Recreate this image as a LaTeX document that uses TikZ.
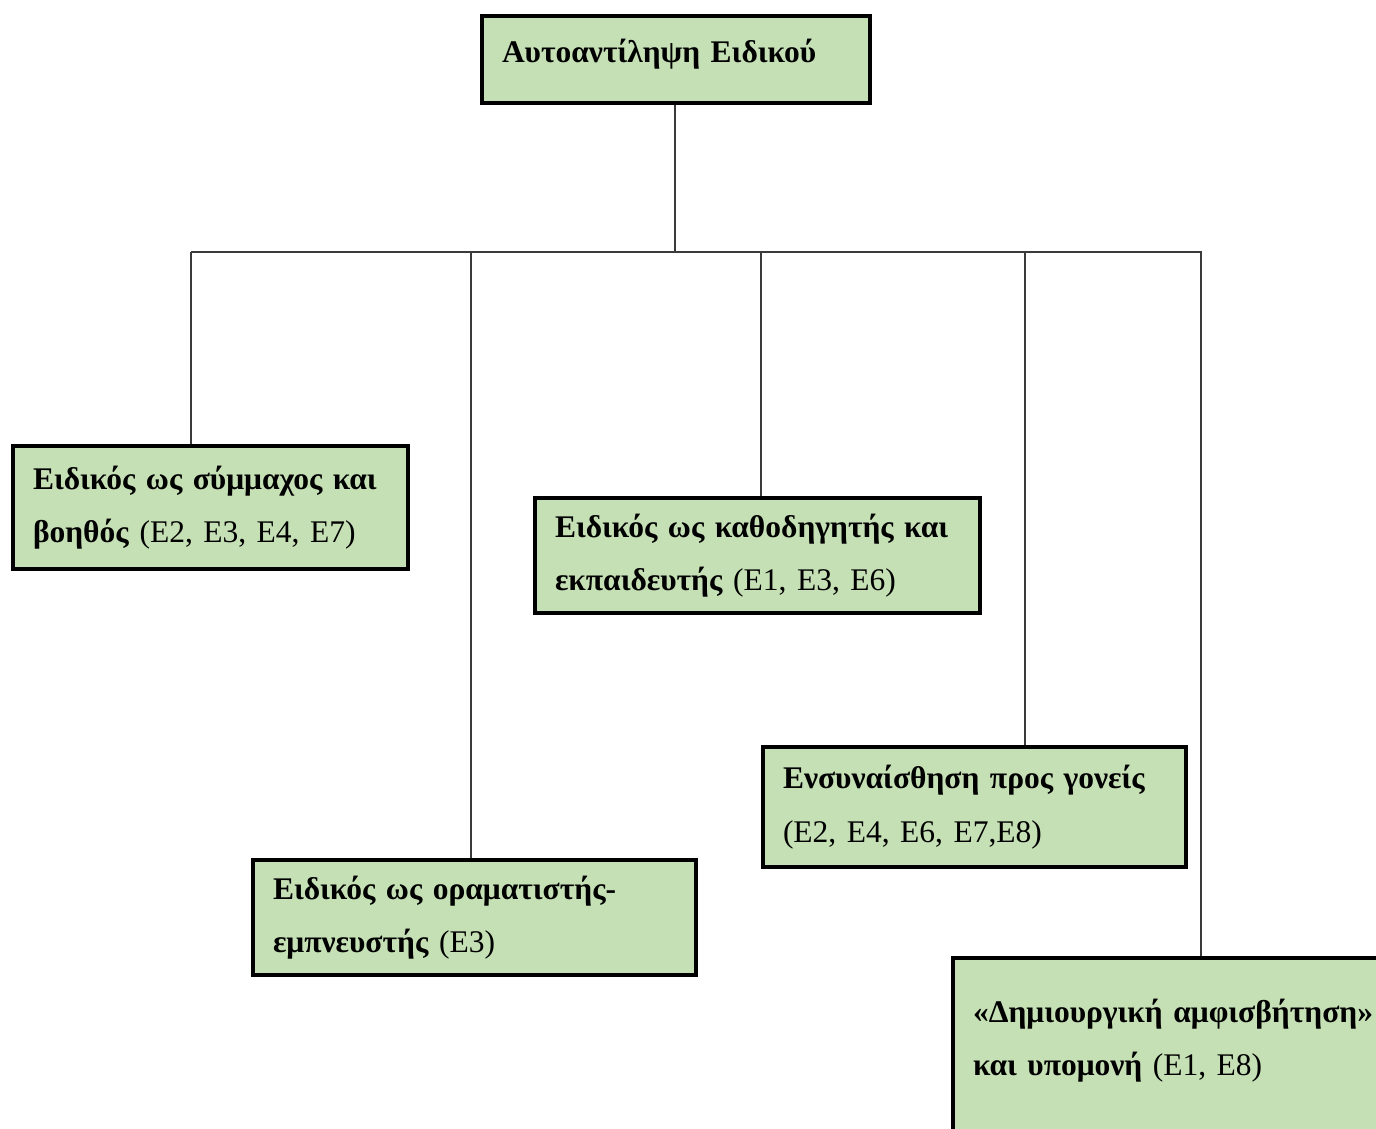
\documentclass[tikz,border=0pt]{standalone}
\usepackage{fontspec}
\setmainfont{Liberation Serif}
\usepackage{tikz}

\definecolor{boxgreen}{HTML}{C5E0B4}
\definecolor{linegray}{HTML}{3A3A3A}

\begin{document}
\fontsize{31.5}{53.5}\selectfont
\begin{tikzpicture}[x=1pt,y=-1pt,
  theme/.style={draw=black,line width=4pt,fill=boxgreen,align=left,inner xsep=20pt,inner ysep=0pt},
  link/.style={draw=linegray,line width=1.5pt}]
  \clip (0,0) rectangle (1376,1129);
  \node[theme,text width=348pt,minimum height=87pt,text height=24pt,text depth=17pt] (self) at (676,59.5) {\textbf{Αυτοαντίληψη Ειδικού}};
  \node[theme,text width=355pt,minimum height=123pt] (ally) at (210.5,507.5) {\textbf{Ειδικός ως σύμμαχος και}\\ \textbf{βοηθός} (E2, E3, E4, E7)};
  \node[theme,text width=403pt,minimum height=115pt] (vision) at (474.5,917.5) {\textbf{Ειδικός ως οραματιστής-}\\ \textbf{εμπνευστής} (E3)};
  \node[theme,text width=405pt,minimum height=115pt] (guide) at (757.5,555.5) {\textbf{Ειδικός ως καθοδηγητής και}\\ \textbf{εκπαιδευτής} (E1, E3, E6)};
  \node[theme,text width=383pt,minimum height=120pt] (empathy) at (974.5,807) {\textbf{Ενσυναίσθηση προς γονείς}\\ (E2, E4, E6, E7,E8)};
  \node[theme,text width=420pt,minimum height=212pt] (doubt) at (1183,1064) {\textbf{«Δημιουργική αμφισβήτηση»}\\ \textbf{και υπομονή} (E1, E8)\\ \mbox{}};
  \coordinate (hub) at (675,252);
  \coordinate (j1) at (191,252);
  \coordinate (j2) at (471,252);
  \coordinate (j3) at (761,252);
  \coordinate (j4) at (1025,252);
  \coordinate (j5) at (1201,252);
  \draw[link] (self.south -| hub) -- (hub);
  \draw[link] (j1) -- (1202,252);
  \draw[link] (j1) -- (j1 |- ally.north);
  \draw[link] (j2) -- (j2 |- vision.north);
  \draw[link] (j3) -- (j3 |- guide.north);
  \draw[link] (j4) -- (j4 |- empathy.north);
  \draw[link] (j5) -- (j5 |- doubt.north);
\end{tikzpicture}
\end{document}
